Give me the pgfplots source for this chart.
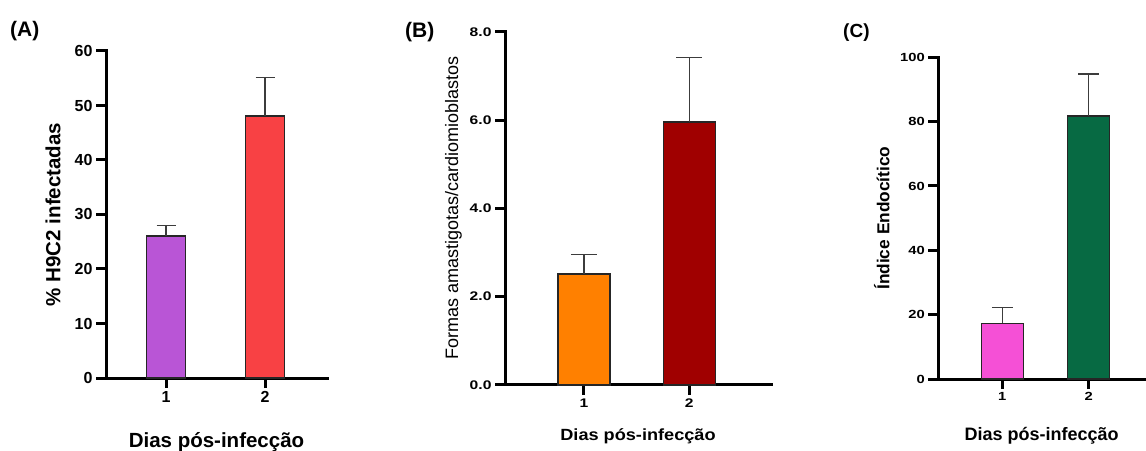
\documentclass[border=0pt]{standalone}
\usepackage{pgfplots}
\pgfplotsset{compat=1.18}
\usepackage{fontspec}
\setmainfont{Liberation Sans}
\newfontfamily\widesans[FakeStretch=1.25]{Liberation Sans}
\newfontfamily\wideB[FakeStretch=1.12]{Liberation Sans}
\definecolor{cAa}{RGB}{185,85,214}
\definecolor{cAb}{RGB}{248,65,68}
\definecolor{cBa}{RGB}{255,128,0}
\definecolor{cBb}{RGB}{160,0,0}
\definecolor{cCa}{RGB}{245,80,214}
\definecolor{cCb}{RGB}{7,106,67}
\definecolor{errc}{RGB}{60,60,60}
\newcommand\fs[1]{\fontsize{#1}{#1}\selectfont}
\pgfplotsset{
  panel/.style={
    scale only axis, clip=false,
    axis x line*=bottom, axis y line*=left,
    axis line style={line width=3pt, line cap=rect, black},
    tick style={line width=3pt, black},
    major tick length=10pt, tick align=outside,
    xtick={1,2}, ymin=0,
    /pgf/number format/assume math mode=true,
  },
  barA/.style 2 args={ybar, bar shift=0pt, draw=black!85, line width=1.5pt, fill=#2,
    error bars/.cd, y dir=plus, y explicit,
    error bar style={line width=1.4pt, errc},
    error mark options={rotate=90, line width=1.4pt, errc, mark size=#1}},
}
\begin{document}
\begin{tikzpicture}
\useasboundingbox (0pt,0pt) rectangle (1146pt,450pt);
% Panel A
\begin{axis}[panel, at={(106pt,72pt)}, anchor=south west,
  width=221pt, height=327pt, xmin=0.394, xmax=2.626, ymax=60, ytick={0,10,...,60},
  ticklabel style={font=\bfseries\fs{16}},
  xlabel={Dias pós-infecção}, ylabel={\% H9C2 infectadas},
  xlabel style={font=\bfseries\fs{20.5}, at={(axis description cs:0.5,-0.214)}, anchor=base},
  ylabel style={font=\bfseries\fs{20.5}, at={(axis description cs:-0.24,0.5)}, anchor=center},
  bar width=39pt]
\addplot[barA={9.5pt}{cAa}] coordinates {(1,26.1) +- (0,1.9)};
\addplot[barA={9.5pt}{cAb}] coordinates {(2,48.1) +- (0,7.0)};
\end{axis}
% Panel B
\begin{axis}[panel, at={(505pt,65pt)}, anchor=south west,
  width=266pt, height=353.3pt, xmin=0.25, xmax=2.776, ymax=8, ytick={0,2,...,8},
  yticklabel style={/pgf/number format/.cd, fixed, fixed zerofill, precision=1},
  ticklabel style={font=\widesans\bfseries\fs{12.5}},
  xlabel={Dias pós-infecção}, ylabel={Formas amastigotas/cardiomioblastos},
  xlabel style={font=\wideB\bfseries\fs{16.2}, at={(axis description cs:0.5,-0.1585)}, anchor=base},
  ylabel style={font=\fs{18}, at={(axis description cs:-0.194,0.5)}, anchor=center},
  bar width=52pt]
\addplot[barA={13pt}{cBa}] coordinates {(1,2.51) +- (0,0.45)};
\addplot[barA={13pt}{cBb}] coordinates {(2,5.96) +- (0,1.45)};
\end{axis}
% Panel C
\begin{axis}[panel, at={(938.3pt,71pt)}, anchor=south west,
  width=206.7pt, height=321.7pt, xmin=0.259, xmax=2.652, ymax=100, ytick={0,20,...,100},
  ticklabel style={font=\widesans\bfseries\fs{11.8}},
  xlabel={Dias pós-infecção}, ylabel={Índice Endocítico},
  xlabel style={font=\bfseries\fs{18}, at={(axis description cs:0.5,-0.19)}, anchor=base},
  ylabel style={font=\bfseries\fs{17.3}, at={(axis description cs:-0.274,0.5)}, anchor=center},
  bar width=42pt]
\addplot[barA={10.5pt}{cCa}] coordinates {(1,17.3) +- (0,5.0)};
\addplot[barA={10.5pt}{cCb}] coordinates {(2,81.7) +- (0,13.1)};
\end{axis}
\node[anchor=base west, font=\bfseries\fs{21}, inner sep=0pt] at (10pt,413pt) {(A)};
\node[anchor=base west, font=\bfseries\fs{21}, inner sep=0pt] at (405pt,412pt) {(B)};
\node[anchor=base west, font=\bfseries\fs{19}, inner sep=0pt] at (843pt,412pt) {(C)};
\end{tikzpicture}
\end{document}
